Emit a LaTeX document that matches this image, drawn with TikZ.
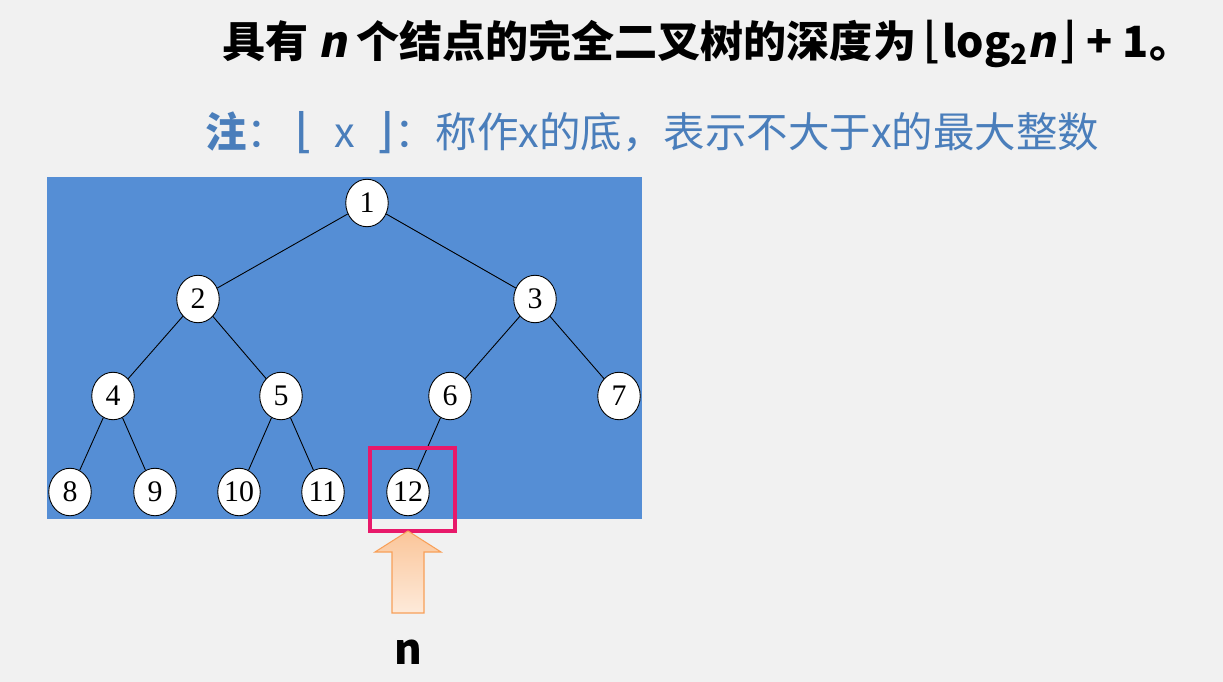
\documentclass[tikz,border=0pt]{standalone}
\usepackage{fontspec}
\setmainfont{Noto Sans CJK SC}
\newfontfamily\cjkslant{Noto Sans CJK SC}[FakeSlant=0.2]
\newfontfamily\symfont{DejaVu Sans}
\newfontfamily\numfont{Liberation Serif}
\usetikzlibrary{shapes.geometric,positioning,calc}
\definecolor{bgc}{HTML}{F1F1F1}
\definecolor{treebg}{HTML}{558ED5}
\definecolor{notec}{HTML}{4A7EBB}
\definecolor{pinkc}{HTML}{E8196A}
\definecolor{arr}{HTML}{F79646}
\newcommand{\flo}[1]{{\symfont\mdseries\fontsize{#1}{#1}\selectfont ⌊}}
\newcommand{\cei}[1]{{\symfont\mdseries\fontsize{#1}{#1}\selectfont ⌋}}
\tikzset{
 vert/.style={ellipse,draw=black,fill=white,line width=0.5pt,minimum width=0.85cm,
  minimum height=0.95cm,inner sep=0pt,font=\numfont\fontsize{17}{17}\selectfont},
 edge/.style={line width=0.5pt,black}
}

\begin{document}
\begin{tikzpicture}[x=0.02cm,y=-0.02cm]
 \fill[bgc] (0,0) rectangle (1223,682);
 \useasboundingbox (0,0) rectangle (1223,682);
 % heading and note
 \node[anchor=west,font=\bfseries\fontsize{24.5}{26}\selectfont,inner sep=0pt] (title) at (222,44)
  {具有 {\cjkslant n} 个结点的完全二叉树的深度为\,\flo{28}log\raisebox{-0.3ex}{\fontsize{16}{16}\selectfont 2}{\cjkslant n}\kern1pt\cei{28} + 1。};
 \node[anchor=west,text=notec,font=\fontsize{23.6}{26}\selectfont,inner sep=0pt] (remark) at (205,133)
  {\textbf{注}：\,\flo{27}\enspace x\enspace\cei{27}：称作x的底，表示不大于x的最大整数};
 % tree
 \fill[treebg] (47,177) rectangle (642,519);
 \node[vert] (v1) at (367,203) {1};
 \node[vert] (v2) at (198,299) {2};
 \node[vert] (v3) at (535,299) {3};
 \node[vert] (v4) at (113,396) {4};
 \node[vert] (v5) at (281,396) {5};
 \node[vert] (v6) at (450,396) {6};
 \node[vert] (v7) at (619,396) {7};
 \node[vert] (v8) at (70,492) {8};
 \node[vert] (v9) at (155,492) {9};
 \node[vert] (v10) at (239,492) {10};
 \node[vert] (v11) at (323,492) {11};
 \node[vert] (v12) at (408,492) {12};
 \draw[edge] (v1)--(v2); \draw[edge] (v1)--(v3);
 \draw[edge] (v2)--(v4); \draw[edge] (v2)--(v5);
 \draw[edge] (v3)--(v6); \draw[edge] (v3)--(v7);
 \draw[edge] (v4)--(v8); \draw[edge] (v4)--(v9);
 \draw[edge] (v5)--(v10); \draw[edge] (v5)--(v11);
 \draw[edge] (v6)--(v12);
 % last node marked
 \draw[pinkc,line width=0.08cm] (370,448) rectangle (455,531);
 \shadedraw[top color=arr!55,bottom color=arr!20,draw=arr!90,line width=0.6pt]
  (408,531)--(441,552)--(424,552)--(424,613)--(392,613)--(392,552)--(375,552)--cycle;
 \node[font=\bfseries\fontsize{24}{26}\selectfont] (nlabel) at (408,652) {n};
\end{tikzpicture}
\end{document}
